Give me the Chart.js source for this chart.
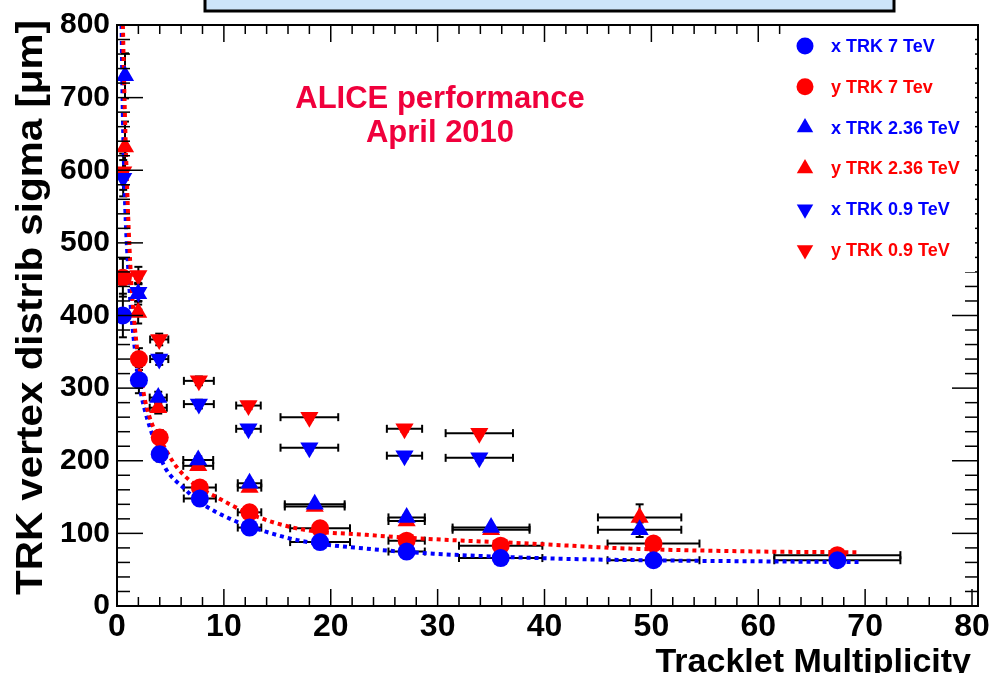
<!DOCTYPE html>
<html>
<head>
<meta charset="utf-8">
<script src="https://cdn.jsdelivr.net/npm/chart.js@4.4.1/dist/chart.umd.min.js"></script>
<style>
  html, body { margin: 0; padding: 0; background: #fff; }
</style>
</head>
<body>
<canvas id="chart" width="992" height="673"></canvas>
<script>
// x TRK 7 TeV (blue circles) / y TRK 7 Tev (red circles)
const trk7X   = [0.55, 2.05, 4.0, 7.75, 12.4, 19.0, 27.1, 35.9, 50.2, 67.4];
const trk7Ex  = [0, 0.3, 0.5, 1.5, 1.1, 2.8, 1.7, 3.9, 4.3, 5.9];
const x7Y     = [400, 311, 209, 148, 108, 88, 75, 66, 63, 63];
const x7Ey    = [30, 18, 10, 6, 4, 3, 3, 2, 2, 2];
const y7Y     = [452, 340, 232, 163, 129, 107, 90, 83, 86, 70];
const y7Ey    = [26, 15, 10, 6, 4, 3, 3, 2, 2, 2];

// 2.36 TeV (up triangles)
const trk236X  = [0.75, 1.98, 3.86, 7.6, 12.4, 18.5, 27.1, 35.0, 48.9];
const trk236Ex = [0, 0.3, 0.8, 1.4, 1.1, 2.8, 1.7, 3.6, 3.9];
const x236Y    = [730, 430, 287, 201, 169, 140, 122, 108, 105];
const x236Ey   = [31, 15, 8, 5, 4, 3, 3, 3, 10];
const y236Y    = [632, 404, 273, 193, 163, 137, 117, 105, 122];
const y236Ey   = [35, 15, 8, 5, 4, 3, 3, 3, 18];

// 0.9 TeV (down triangles)
const trk09X  = [0.58, 2.0, 3.95, 7.66, 12.3, 18.0, 26.9, 33.9];
const trk09Ex = [0, 0.3, 0.85, 1.4, 1.15, 2.7, 1.65, 3.15];
const x09Y    = [589, 432, 340, 278, 244, 218, 207, 204];
const x09Ey   = [25, 12, 8, 6, 5, 4, 4, 4];
const y09Y    = [598, 455, 367, 310, 276, 260, 244, 238];
const y09Ey   = [25, 12, 8, 6, 5, 4, 4, 4];

// fit curves
const fitXX = [0.43, 0.52, 0.65, 0.82, 1.05, 1.35, 1.7, 2, 2.6, 3.1, 4, 4.6, 6.2, 7.75, 10.9, 14, 17.1, 23.3, 29.6, 41.7, 51.1, 60, 69.5];
const fitXY = [800, 700, 610, 530, 465, 400, 350, 312, 270, 245, 207, 188, 163, 143, 118, 102, 90, 79, 72, 65, 62.7, 61.5, 60.4];
const fitYX = [0.55, 0.7, 0.85, 1.05, 1.3, 1.6, 2, 2.6, 3.4, 4, 5.6, 7.5, 9.3, 12.4, 17.1, 23.3, 29.6, 38.6, 48, 60.1, 69.2];
const fitYY = [800, 700, 620, 535, 455, 395, 340, 285, 246, 230, 191, 165, 150, 127, 106, 98, 92, 86, 79, 75, 74];

const xTickLabels = ['0', '10', '20', '30', '40', '50', '60', '70', '80'];
const yTickLabels = ['0', '100', '200', '300', '400', '500', '600', '700', '800'];

const BLUE = '#0000ff';
const RED = '#ff0000';
const FONT = '"Liberation Sans", Arial, sans-serif';

function pts(xs, ys) {
  return xs.map((x, i) => ({ x: x, y: ys[i] }));
}

function markerSet(label, xs, ys, ex, ey, color, style, rot, order) {
  return {
    label: label,
    data: pts(xs, ys),
    xErr: ex,
    yErr: ey,
    pointStyle: style,
    rotation: rot,
    pointRadius: style === 'circle' ? 9 : 10.5,
    pointBackgroundColor: color,
    pointBorderColor: color,
    pointBorderWidth: 0,
    showLine: false,
    order: order
  };
}

function fitSet(xs, ys, color) {
  return {
    label: '',
    data: pts(xs, ys),
    showLine: true,
    pointRadius: 0,
    borderColor: color,
    borderWidth: 4,
    borderDash: [4, 4],
    cubicInterpolationMode: 'monotone',
    order: 10
  };
}

const datasets = [
  fitSet(fitYX, fitYY, RED),
  fitSet(fitXX, fitXY, BLUE),
  markerSet('x TRK 7 TeV', trk7X, x7Y, trk7Ex, x7Ey, BLUE, 'circle', 0, 1),
  markerSet('y TRK 7 Tev', trk7X, y7Y, trk7Ex, y7Ey, RED, 'circle', 0, 5),
  markerSet('x TRK 2.36 TeV', trk236X, x236Y, trk236Ex, x236Ey, BLUE, 'triangle', 0, 1),
  markerSet('y TRK 2.36 TeV', trk236X, y236Y, trk236Ex, y236Ey, RED, 'triangle', 0, 5),
  markerSet('x TRK 0.9 TeV', trk09X, x09Y, trk09Ex, x09Ey, BLUE, 'triangle', 180, 1),
  markerSet('y TRK 0.9 TeV', trk09X, y09Y, trk09Ex, y09Ey, RED, 'triangle', 180, 5)
];

function line(ctx, x0, y0, x1, y1) {
  ctx.beginPath();
  ctx.moveTo(x0, y0);
  ctx.lineTo(x1, y1);
  ctx.stroke();
}

// black error bars with small end caps, under the markers
const errorBars = {
  id: 'errorBars',
  beforeDatasetsDraw(chart) {
    const ctx = chart.ctx;
    const xs = chart.scales.x, ys = chart.scales.y;
    ctx.save();
    ctx.strokeStyle = '#000';
    ctx.lineWidth = 2;
    chart.data.datasets.forEach(ds => {
      if (!ds.xErr) return;
      ds.data.forEach((p, i) => {
        const cx = xs.getPixelForValue(p.x), cy = ys.getPixelForValue(p.y);
        const ex = ds.xErr[i] || 0, ey = ds.yErr[i] || 0;
        if (ex > 0) {
          const x0 = xs.getPixelForValue(p.x - ex), x1 = xs.getPixelForValue(p.x + ex);
          line(ctx, x0, cy, x1, cy);
          line(ctx, x0, cy - 4, x0, cy + 4);
          line(ctx, x1, cy - 4, x1, cy + 4);
        }
        if (ey > 0) {
          const y0 = ys.getPixelForValue(p.y - ey), y1 = ys.getPixelForValue(p.y + ey);
          line(ctx, cx, y0, cx, y1);
          line(ctx, cx - 4, y0, cx + 4, y0);
          line(ctx, cx - 4, y1, cx + 4, y1);
        }
      });
    });
    ctx.restore();
  }
};

// frame, inside ticks, legend, texts
const decorations = {
  id: 'decorations',
  afterDraw(chart) {
    const ctx = chart.ctx;
    const a = chart.chartArea;
    const xs = chart.scales.x, ys = chart.scales.y;
    const right = a.right + 6;
    ctx.save();
    ctx.strokeStyle = '#000';
    ctx.lineWidth = 1.5;
    for (let v = 0; v <= 80; v += 2) {
      const px = xs.getPixelForValue(v);
      const len = v % 10 === 0 ? 17 : 9;
      line(ctx, px, a.bottom, px, a.bottom - len);
      line(ctx, px, a.top, px, a.top + len);
    }
    for (let v = 0; v <= 800; v += 20) {
      const py = ys.getPixelForValue(v);
      const len = v % 100 === 0 ? 26 : 13;
      line(ctx, a.left, py, a.left + len, py);
      line(ctx, right, py, right - len, py);
    }

    // legend box covers the top ticks
    ctx.fillStyle = '#fff';
    ctx.fillRect(783, a.top + 1, right - 786, 246);

    ctx.lineWidth = 2;
    ctx.strokeRect(a.left, a.top, right - a.left, a.bottom - a.top);

    const entries = chart.data.datasets.filter(d => d.xErr);
    ctx.font = 'bold 18px ' + FONT;
    ctx.textBaseline = 'middle';
    ctx.textAlign = 'left';
    entries.forEach((d, i) => {
      const y = 46 + i * 40.8;
      ctx.fillStyle = d.pointBackgroundColor;
      ctx.strokeStyle = d.pointBackgroundColor;
      Chart.helpers.drawPoint(ctx, {
        pointStyle: d.pointStyle,
        rotation: d.rotation,
        radius: d.pointStyle === 'circle' ? 8.5 : 9.5,
        borderWidth: 0
      }, 805, y);
      ctx.fillText(d.label, 831, y + 1);
    });

    // title box at the very top
    ctx.fillStyle = '#cde4fa';
    ctx.fillRect(205, -10, 689, 21);
    ctx.lineWidth = 3;
    ctx.strokeStyle = '#000';
    ctx.strokeRect(205, -10, 689, 21);

    ctx.fillStyle = '#f0003c';
    ctx.font = 'bold 31px ' + FONT;
    ctx.textAlign = 'center';
    ctx.textBaseline = 'alphabetic';
    ctx.fillText('ALICE performance', 440, 108);
    ctx.fillText('April 2010', 440, 142);

    ctx.fillStyle = '#000';
    ctx.font = 'bold 34px ' + FONT;
    ctx.textAlign = 'right';
    ctx.fillText('Tracklet Multiplicity', 971, 672);

    const yTitle = 'TRK vertex distrib sigma [\u03bcm]';
    ctx.font = 'bold 36px ' + FONT;
    ctx.textAlign = 'left';
    const w = ctx.measureText(yTitle).width;
    ctx.translate(42, 595);
    ctx.rotate(-Math.PI / 2);
    ctx.scale(575 / w, 1);
    ctx.fillText(yTitle, 0, 0);
    ctx.restore();
  }
};

new Chart(document.getElementById('chart'), {
  type: 'scatter',
  data: { datasets: datasets },
  plugins: [errorBars, decorations],
  options: {
    responsive: false,
    animation: false,
    layout: { padding: { top: 24, right: 20, left: 0, bottom: 0 } },
    plugins: { legend: { display: false }, tooltip: { enabled: false } },
    scales: {
      x: {
        type: 'linear', min: 0, max: 80,
        afterFit: s => { s.height = 67; },
        grid: { display: false, drawTicks: false },
        border: { display: false },
        ticks: {
          stepSize: 10, padding: 2, color: '#000',
          font: { family: FONT, size: 32, weight: 'bold' },
          callback: (v) => xTickLabels[v / 10]
        }
      },
      y: {
        type: 'linear', min: 0, max: 800,
        afterFit: s => { s.width = 117; },
        grid: { display: false, drawTicks: false },
        border: { display: false },
        ticks: {
          stepSize: 100, padding: 7, color: '#000',
          font: { family: FONT, size: 30, weight: 'bold' },
          callback: (v) => yTickLabels[v / 100]
        }
      }
    }
  }
});
</script>
</body>
</html>
